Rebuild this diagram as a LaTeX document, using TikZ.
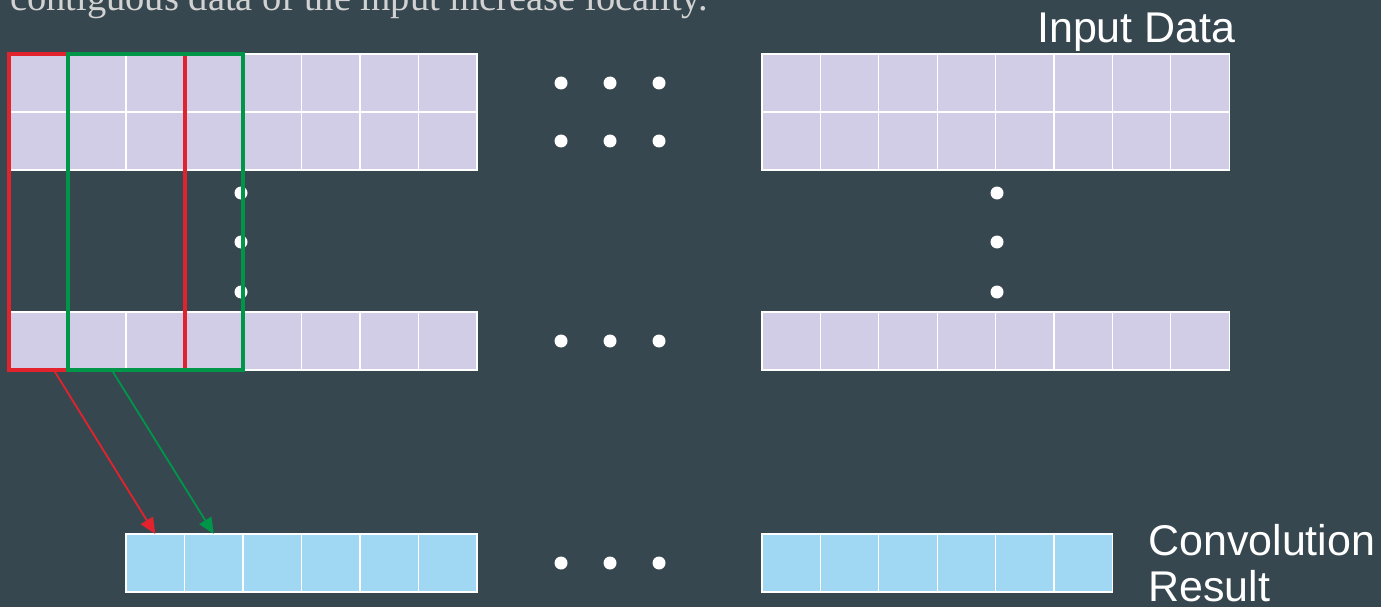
\documentclass[tikz,border=0pt]{standalone}
\usepackage{fontspec}
\setmainfont{Liberation Serif}
\setsansfont{Liberation Sans}
\usetikzlibrary{arrows.meta}
\definecolor{slate}{HTML}{37474F}
\definecolor{lav}{HTML}{D1CDE6}
\definecolor{sky}{HTML}{A0D8F4}
\definecolor{winred}{HTML}{E2232D}
\definecolor{wingreen}{HTML}{00964A}
\definecolor{capgray}{HTML}{D2D2D2}
\tikzset{
  incell/.style={draw=white, line width=1.2pt, fill=lav, minimum width=58.5pt,
    minimum height=58pt, inner sep=0pt, outer sep=0pt},
  rescell/.style={incell, fill=sky},
  window/.style={line width=4pt},
  slide/.style={-{Triangle[length=16pt,width=14pt]}, line width=1.8pt},
  label/.style={text=white, font=\sffamily\fontsize{43}{47}\selectfont, inner sep=0pt},
}
\begin{document}
\begin{tikzpicture}[x=1pt,y=-1pt]
    \useasboundingbox (0,0) rectangle (1381,607);
    \fill[slate] (0,0) rectangle (1381,607);
    \node[anchor=base west, inner sep=0pt, text=capgray,
      font=\fontsize{38.5}{42}\selectfont] (caption) at (10,11)
      {contiguous data of the input increase locality.};
    % input rows
    \foreach \r/\y in {1/83,2/141,3/341} {
      \foreach \c in {1,...,8} {
        \node[incell] (l-\r-\c) at ({9+58.5*(\c-0.5)},\y) {};
        \node[incell, minimum width=58.4pt] (r-\r-\c) at ({762+58.4*(\c-0.5)},\y) {};
      }
    }
    % result rows
    \foreach \c in {1,...,6} {
      \node[rescell] (lres-\c) at ({126+58.5*(\c-0.5)},563) {};
      \node[rescell, minimum width=58.4pt] (rres-\c) at ({762+58.4*(\c-0.5)},563) {};
    }
    % dots
    \foreach \x in {561,610,659}
      \foreach \y in {83,141,341,563}
        \fill[white] (\x,\y) circle (6.5);
    \foreach \y in {193,242,292} {
      \fill[white] (241,\y) circle (6.5);
      \fill[white] (997,\y) circle (6.5);
    }
    % windows
    \draw[window, winred] (9,54) rectangle (185,370);
    \draw[window, wingreen] (68,54) rectangle (243,370);
    \coordinate (redtail) at (55,372);
    \coordinate (greentail) at (113,372);
    \draw[slide, winred] (redtail) -- (lres-1.north);
    \draw[slide, wingreen] (greentail) -- (lres-2.north);
    % labels
    \node[label, anchor=base west] (inlabel) at (1037,43) {Input Data};
    \node[label, anchor=base west] (convlabel) at (1148,555) {Convolution};
    \node[label, anchor=base west] (reslabel) at (1148,601) {Result};
\end{tikzpicture}
\end{document}
